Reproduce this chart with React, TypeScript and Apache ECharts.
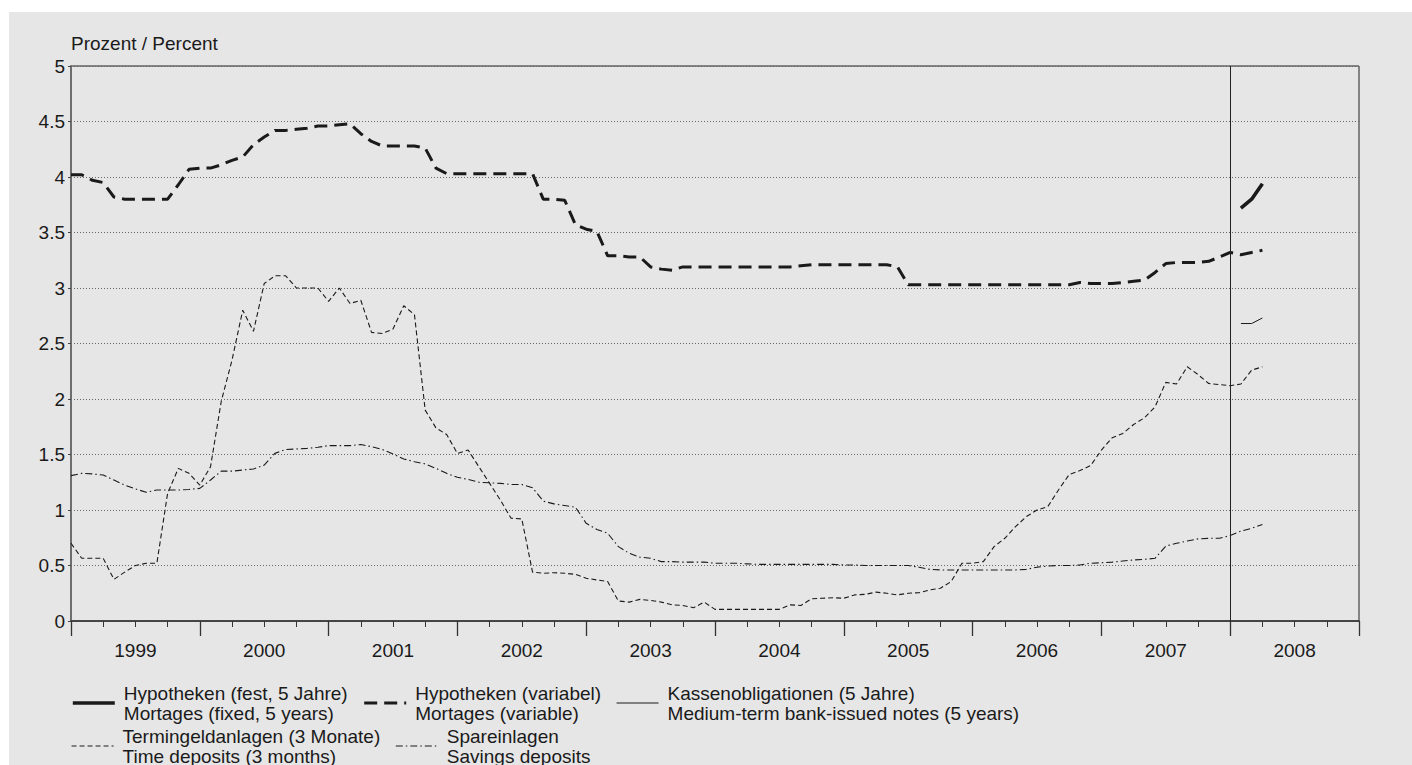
import React, { useEffect, useRef } from "react";
import * as echarts from "echarts";

// ---- Data (monthly values, index 0 = Jan 1999) ----
const yearLabels = ["1999", "2000", "2001", "2002", "2003", "2004", "2005", "2006", "2007", "2008"];

const nameFixed = "Hypotheken (fest, 5 Jahre)\nMortages (fixed, 5 years)";
const nameVariable = "Hypotheken (variabel)\nMortages (variable)";
const nameNotes = "Kassenobligationen (5 Jahre)\nMedium-term bank-issued notes (5 years)";
const nameTime = "Termingeldanlagen (3 Monate)\nTime deposits (3 months)";
const nameSavings = "Spareinlagen\nSavings deposits";

const oldSeriesStart = 0;   // Jan 1999
const newSeriesStart = 109; // Feb 2008
const breakMonth = 108;     // Jan 2008 (vertical line)

const variableMortgage = [
  4.02, 4.02, 3.97, 3.95, 3.82, 3.80, 3.80, 3.80, 3.80, 3.80,
  3.93, 4.07, 4.08, 4.08, 4.11, 4.15, 4.18, 4.29, 4.36, 4.42,
  4.42, 4.43, 4.44, 4.46, 4.46, 4.47, 4.48, 4.39, 4.32, 4.28,
  4.28, 4.28, 4.28, 4.26, 4.08, 4.03, 4.03, 4.03, 4.03, 4.03,
  4.03, 4.03, 4.03, 4.03, 3.80, 3.80, 3.79, 3.57, 3.53, 3.51,
  3.29, 3.29, 3.28, 3.28, 3.19, 3.17, 3.16, 3.19, 3.19, 3.19,
  3.19, 3.19, 3.19, 3.19, 3.19, 3.19, 3.19, 3.19, 3.20, 3.21,
  3.21, 3.21, 3.21, 3.21, 3.21, 3.21, 3.21, 3.19, 3.03, 3.03,
  3.03, 3.03, 3.03, 3.03, 3.03, 3.03, 3.03, 3.03, 3.03, 3.03,
  3.03, 3.03, 3.03, 3.03, 3.05, 3.04, 3.04, 3.04, 3.05, 3.06,
  3.07, 3.14, 3.22, 3.23, 3.23, 3.23, 3.24, 3.28, 3.32, 3.30, 3.32, 3.34,
];

const timeDeposits = [
  0.70, 0.565, 0.565, 0.565, 0.375, 0.44, 0.50, 0.52, 0.52, 1.15,
  1.375, 1.33, 1.225, 1.39, 1.98, 2.35, 2.80, 2.61, 3.04, 3.11,
  3.11, 3.00, 3.00, 3.00, 2.88, 3.00, 2.86, 2.89, 2.60, 2.59,
  2.63, 2.84, 2.76, 1.90, 1.74, 1.68, 1.51, 1.54, 1.39, 1.24,
  1.09, 0.925, 0.92, 0.44, 0.43, 0.435, 0.43, 0.42, 0.385, 0.37,
  0.355, 0.18, 0.17, 0.195, 0.185, 0.17, 0.145, 0.14, 0.12, 0.17,
  0.105, 0.105, 0.105, 0.105, 0.105, 0.105, 0.105, 0.145, 0.14, 0.20,
  0.205, 0.21, 0.205, 0.235, 0.24, 0.26, 0.25, 0.235, 0.25, 0.255,
  0.28, 0.295, 0.355, 0.52, 0.52, 0.535, 0.67, 0.745, 0.85, 0.94,
  1.00, 1.03, 1.18, 1.32, 1.355, 1.40, 1.54, 1.65, 1.69, 1.77,
  1.83, 1.93, 2.15, 2.135, 2.29, 2.22, 2.14, 2.13, 2.12, 2.135, 2.26, 2.29,
];

const savingsDeposits = [
  1.31, 1.33, 1.325, 1.315, 1.27, 1.225, 1.19, 1.16, 1.18, 1.18,
  1.18, 1.185, 1.195, 1.27, 1.35, 1.35, 1.36, 1.37, 1.405, 1.51,
  1.545, 1.55, 1.555, 1.565, 1.58, 1.58, 1.58, 1.59, 1.57, 1.545,
  1.505, 1.46, 1.435, 1.415, 1.375, 1.33, 1.295, 1.275, 1.25, 1.245,
  1.24, 1.23, 1.23, 1.20, 1.08, 1.055, 1.04, 1.025, 0.88, 0.825,
  0.79, 0.67, 0.61, 0.575, 0.565, 0.535, 0.535, 0.53, 0.53, 0.53,
  0.52, 0.52, 0.52, 0.515, 0.51, 0.51, 0.51, 0.51, 0.51, 0.51,
  0.51, 0.51, 0.505, 0.505, 0.50, 0.50, 0.50, 0.50, 0.50, 0.485,
  0.465, 0.46, 0.46, 0.46, 0.46, 0.46, 0.46, 0.46, 0.46, 0.465,
  0.485, 0.495, 0.50, 0.50, 0.505, 0.52, 0.525, 0.53, 0.54, 0.55,
  0.555, 0.565, 0.675, 0.70, 0.72, 0.74, 0.745, 0.745, 0.77, 0.81, 0.835, 0.87,
];

const fixedMortgage = [3.72, 3.80, 3.94];
const mediumTermNotes = [2.68, 2.68, 2.73];

const toPairs = (vals: number[], start: number) => vals.map((v, i) => [start + i, v]);

const FONT = "'Liberation Sans', Arial, sans-serif";
const INK = "#1a1a1a";

const styleFixed = { color: INK, width: 3.6, type: "solid" as any };
const styleVariable = { color: INK, width: 3, type: [13, 7] as any };
const styleNotes = { color: INK, width: 1, type: "solid" as any };
const styleTime = { color: INK, width: 1.1, type: [5, 3] as any };
const styleSavings = { color: INK, width: 1.1, type: [7, 3, 1.5, 3] as any };

const hiddenSymbol = { color: "rgba(0,0,0,0)", borderColor: "rgba(0,0,0,0)", borderWidth: 0 };

export default function App() {
  const ref = useRef<HTMLDivElement>(null);

  useEffect(() => {
    if (!ref.current) return;
    const chart = echarts.init(ref.current, undefined, { renderer: "svg" });

    const lineSeries = (name: string, data: number[][], ls: any, extra: any = {}) => ({
      name,
      type: "line",
      xAxisIndex: 0,
      yAxisIndex: 0,
      data,
      symbol: "none",
      showSymbol: false,
      lineStyle: ls,
      itemStyle: { color: INK },
      z: 3,
      ...extra,
    });

    const legendCommon = {
      left: 62,
      padding: 0,
      orient: "horizontal",
      itemWidth: 42,
      itemHeight: 14,
      itemGap: 15,
      selectedMode: false,
      textStyle: {
        fontFamily: FONT,
        fontSize: 19,
        lineHeight: 20,
        color: INK,
        padding: [0, 0, 0, 4],
      },
    };

    chart.setOption({
      animation: false,
      backgroundColor: "#e6e6e6",
      textStyle: { fontFamily: FONT },
      title: {
        text: "Prozent / Percent",
        left: 62,
        top: 22,
        padding: 0,
        textStyle: { fontFamily: FONT, fontSize: 19, fontWeight: "normal", color: INK },
      },
      grid: {
        left: 62,
        top: 54,
        width: 1288,
        height: 555,
        show: true,
        borderColor: "#222",
        borderWidth: 1,
        backgroundColor: "transparent",
        containLabel: false,
      },
      legend: [
        {
          ...legendCommon,
          top: 671,
          data: [
            { name: nameFixed, lineStyle: styleFixed, itemStyle: hiddenSymbol },
            { name: nameVariable, lineStyle: styleVariable, itemStyle: hiddenSymbol },
            { name: nameNotes, lineStyle: styleNotes, itemStyle: hiddenSymbol },
          ],
        },
        {
          ...legendCommon,
          top: 714,
          data: [
            { name: nameTime, lineStyle: styleTime, itemStyle: hiddenSymbol },
            { name: nameSavings, lineStyle: styleSavings, itemStyle: hiddenSymbol },
          ],
        },
      ],
      xAxis: [
        {
          type: "value",
          min: 0,
          max: 120,
          interval: 12,
          axisLine: { show: true, lineStyle: { color: "#333", width: 1.5 } },
          axisTick: { show: true, length: 15, lineStyle: { color: "#333", width: 1.3 } },
          minorTick: { show: true, splitNumber: 4, length: 6, lineStyle: { color: "#333", width: 1 } },
          axisLabel: { show: false },
          splitLine: { show: false },
          minorSplitLine: { show: false },
        },
        {
          type: "category",
          data: yearLabels,
          position: "bottom",
          boundaryGap: true,
          axisLine: { show: false },
          axisTick: { show: false },
          splitLine: { show: false },
          axisLabel: { fontFamily: FONT, fontSize: 19, color: INK, margin: 20 },
        },
      ],
      yAxis: {
        type: "value",
        min: 0,
        max: 5,
        interval: 0.5,
        axisLine: { show: true, lineStyle: { color: "#6e6e6e", width: 2 } },
        axisTick: { show: true, length: 3, lineStyle: { color: "#444" } },
        axisLabel: { fontFamily: FONT, fontSize: 19, color: INK, margin: 6 },
        splitLine: { show: true, lineStyle: { color: "#666", width: 1, type: [1, 2] } },
      },
      series: [
        lineSeries(nameFixed, toPairs(fixedMortgage, newSeriesStart), styleFixed),
        lineSeries(nameVariable, toPairs(variableMortgage, oldSeriesStart), styleVariable, {
          markLine: {
            silent: true,
            symbol: ["none", "none"],
            label: { show: false },
            lineStyle: { color: "#222", type: "solid", width: 1 },
            data: [{ xAxis: breakMonth }],
          },
        }),
        lineSeries(nameNotes, toPairs(mediumTermNotes, newSeriesStart), styleNotes),
        lineSeries(nameTime, toPairs(timeDeposits, oldSeriesStart), styleTime),
        lineSeries(nameSavings, toPairs(savingsDeposits, oldSeriesStart), styleSavings),
      ],
    });

    return () => chart.dispose();
  }, []);

  return (
    <div
      ref={ref}
      style={{ position: "absolute", left: 9, top: 12, width: 1403, height: 753 }}
    />
  );
}
